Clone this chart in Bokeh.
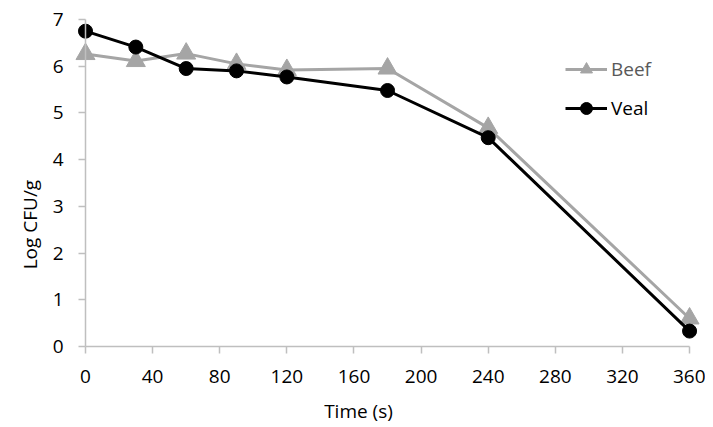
import math
from bokeh.plotting import figure
from bokeh.models import Legend, LegendItem, Range1d, FixedTicker, Label
from bokeh.embed import file_html
from bokeh.resources import INLINE

time_s = [0, 30, 60, 90, 120, 180, 240, 360]
beef = [6.26, 6.11, 6.27, 6.05, 5.92, 5.95, 4.68, 0.60]
veal = [6.75, 6.41, 5.95, 5.90, 5.77, 5.48, 4.47, 0.33]
x_ticks = [0, 40, 80, 120, 160, 200, 240, 280, 320, 360]
y_ticks = [0, 1, 2, 3, 4, 5, 6, 7]

FONT = "Open Sans"
AX = "#bfbfbf"

p = figure(output_backend="svg", toolbar_location=None,
           frame_width=705, frame_height=426,
           min_border_left=0, min_border_right=0, min_border_top=0, min_border_bottom=0,
           x_range=Range1d(-50.66, 369.5), y_range=Range1d(-1.7125, 7.4067))
p.outline_line_color = None
p.xgrid.grid_line_color = None
p.ygrid.grid_line_color = None
p.background_fill_color = "white"
p.border_fill_color = "white"

for ax in (p.xaxis, p.yaxis):
    ax.axis_line_color = AX
    ax.axis_line_width = 1.5
    ax.major_tick_line_color = AX
    ax.major_tick_line_width = 1.5
    ax.minor_tick_line_color = None
    ax.major_tick_in = 0
    ax.major_tick_out = 7
    ax.major_label_text_font = FONT
    ax.major_label_text_font_size = "19px"
    ax.major_label_text_color = "black"

p.xaxis.ticker = FixedTicker(ticks=x_ticks)
p.yaxis.ticker = FixedTicker(ticks=y_ticks)
p.xaxis.bounds = (0, 360)
p.yaxis.bounds = (0, 7)
p.yaxis.fixed_location = 0
p.xaxis.fixed_location = 0
p.xaxis.major_label_standoff = 16
p.yaxis.major_label_standoff = 15

bl = p.line(time_s, beef, line_color="#a5a5a5", line_width=3)
bm = p.scatter(time_s, beef, marker="triangle", size=19, fill_color="#a5a5a5", line_color="#a5a5a5")
vl = p.line(time_s, veal, line_color="black", line_width=3)
vm = p.scatter(time_s, veal, marker="circle", size=14, fill_color="black", line_color="black")

p.add_layout(Label(x=-32.8, y=2.61, text="Log CFU/g", angle=math.pi / 2,
                   text_align="center", text_baseline="middle",
                   text_font=FONT, text_font_size="19px", text_color="black"))
p.add_layout(Label(x=162.7, y=-1.39, text="Time (s)",
                   text_align="center", text_baseline="middle",
                   text_font=FONT, text_font_size="19px", text_color="black"))

def mk_legend(item, color, y):
    lg = Legend(items=[item], location=(565, y), padding=0, margin=0,
                border_line_color=None, background_fill_alpha=0,
                glyph_width=42, glyph_height=30, label_height=30,
                label_text_font=FONT, label_text_font_size="19px",
                label_text_color=color, label_standoff=4)
    p.add_layout(lg, "center")

mk_legend(LegendItem(label="Beef", renderers=[bl, bm]), "#595959", 342)
mk_legend(LegendItem(label="Veal", renderers=[vl, vm]), "black", 303)

open("out.html", "w").write(file_html(p, INLINE))
